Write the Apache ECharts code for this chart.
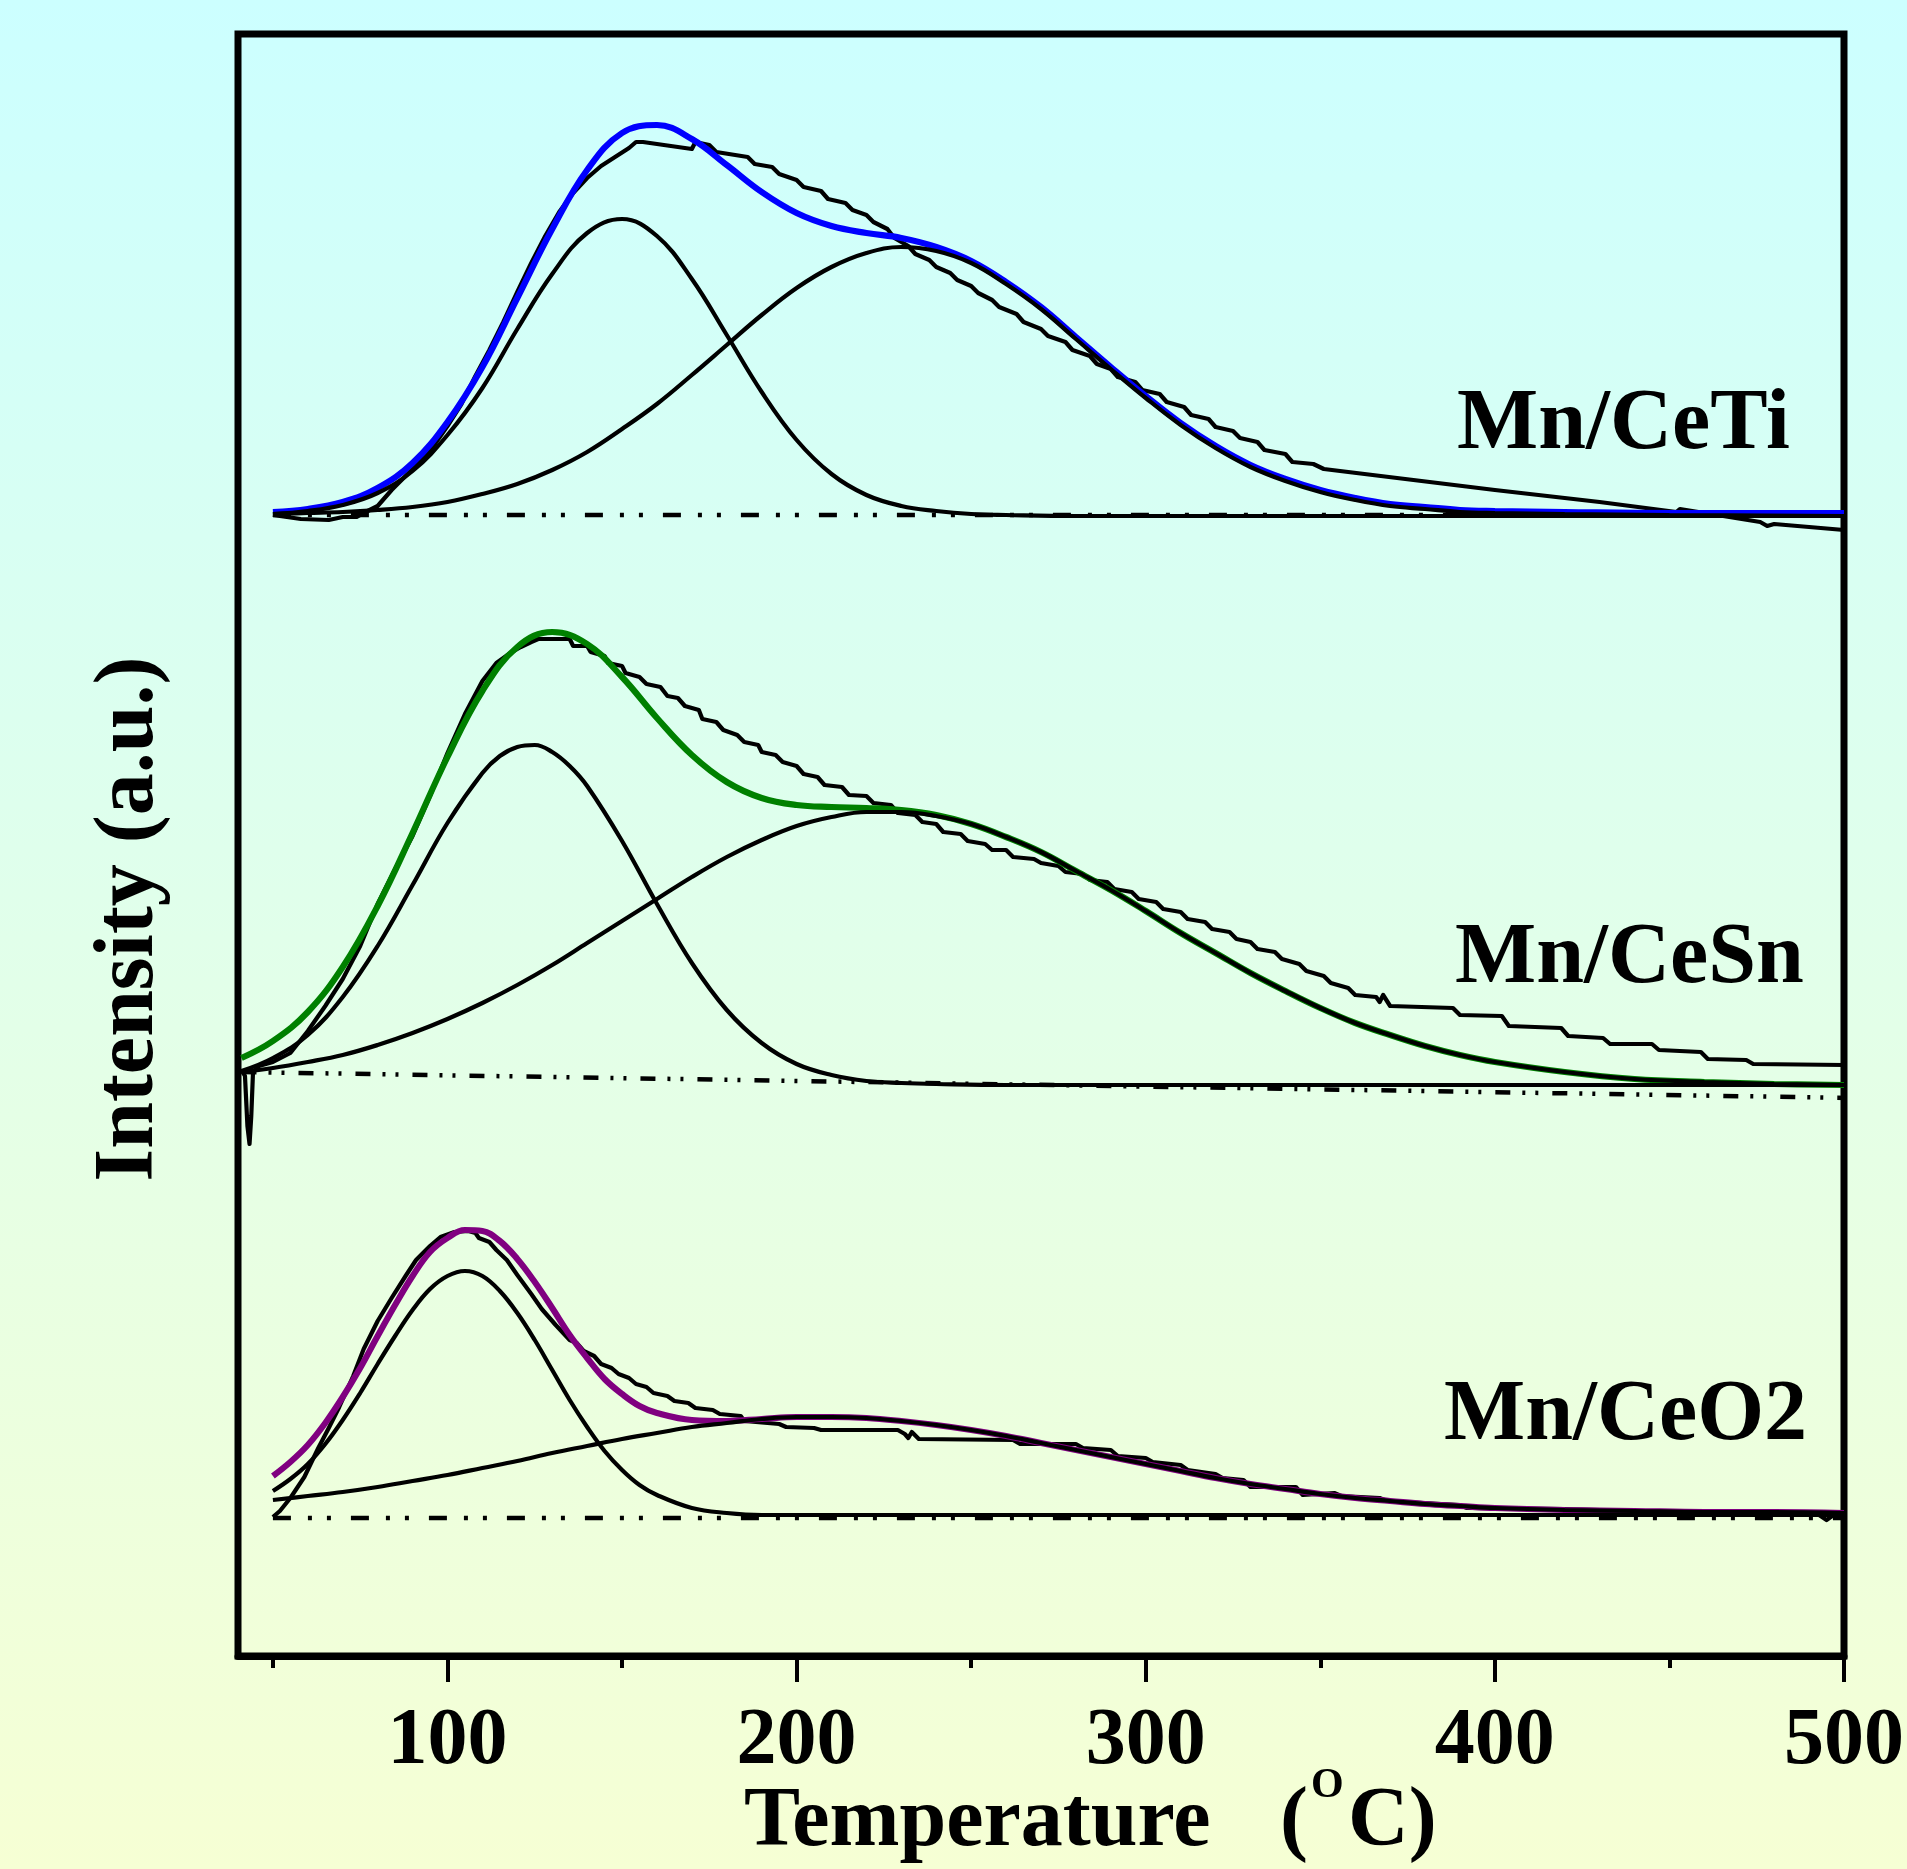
<!DOCTYPE html>
<html>
<head>
<meta charset="utf-8">
<script src="https://cdn.jsdelivr.net/npm/echarts@6/dist/echarts.min.js"></script>
<style>
html,body{margin:0;padding:0;}
#chart{width:1907px;height:1869px;}
</style>
</head>
<body>
<div id="chart"></div>
<script>
// ---- tick labels ----
const majorTicks = [100, 200, 300, 400, 500];
const minorTicks = [50, 150, 250, 350, 450];
const sampleNames = ['Mn/CeTi', 'Mn/CeSn', 'Mn/CeO2'];

// ---- Mn/CeTi ----
const ceTiBase = [[50,1141],[500,1141]];
const ceTiExp = [[50,1141],[58,1137],[66,1136],[70,1139],[74,1139],[76,1143],[80,1150],[84,1166],[88,1180],[92,1194],[96,1210],[100,1230],[104,1252],[108,1280],[112,1306],[116,1334],[120,1364],[124,1393],[128,1420],[132,1444],[136,1463],[140,1478],[144,1490],[148,1499],[152,1508],[154,1514],[156,1514],[170,1507],[171,1514],[175,1511],[177,1504],[186,1499],[188,1492],[193,1489],[195,1482],[200,1476],[202,1469],[207,1465],[209,1457],[214,1453],[216,1446],[220,1441],[222,1434],[226,1427],[228,1418],[232,1410],[234,1402],[238,1396],[240,1389],[244,1383],[246,1376],[250,1370],[252,1363],[256,1356],[258,1349],[263,1342],[265,1334],[270,1327],[272,1320],[277,1314],[279,1306],[284,1300],[286,1292],[290,1287],[292,1279],[297,1274],[299,1266],[304,1262],[306,1254],[311,1249],[313,1241],[318,1237],[320,1229],[325,1225],[327,1218],[332,1214],[334,1206],[340,1202],[342,1194],[348,1192],[351,1187],[400,1166],[430,1154],[452,1144],[453,1147],[476,1134],[478,1130],[480,1132],[500,1126]];
const ceTiFit = [[50,1144],[60,1147],[70,1154],[80,1168],[90,1193],[100,1234],[110,1289],[120,1358],[130,1427],[140,1486],[150,1523],[160,1531],[170,1517],[180,1491],[190,1464],[200,1443],[210,1430],[220,1423],[230,1418],[240,1409],[250,1395],[260,1374],[270,1349],[280,1319],[290,1289],[300,1260],[310,1233],[320,1210],[330,1191],[340,1177],[350,1166],[360,1158],[370,1152],[380,1149],[390,1146],[400,1145],[420,1144],[450,1143],[500,1143]];
const ceTiPeak1 = [[50,1142],[60,1145],[70,1151],[80,1163],[90,1185],[100,1221],[110,1268],[120,1327],[130,1382],[140,1423],[150,1437],[160,1420],[170,1377],[180,1321],[190,1264],[200,1216],[210,1182],[220,1161],[230,1150],[240,1145],[250,1142],[260,1141],[280,1140],[350,1140],[500,1140]];
const ceTiPeak2 = [[50,1142],[60,1143],[70,1144],[80,1146],[90,1149],[100,1154],[110,1162],[120,1172],[130,1186],[140,1204],[150,1227],[160,1252],[170,1281],[180,1311],[190,1341],[200,1368],[210,1389],[220,1403],[230,1409],[240,1405],[250,1393],[260,1372],[270,1347],[280,1317],[290,1287],[300,1258],[310,1231],[320,1208],[330,1189],[340,1175],[350,1164],[360,1156],[370,1150],[380,1147],[390,1144],[400,1143],[420,1142],[450,1141],[500,1140]];

// ---- Mn/CeSn ----
const ceSnBase = [[41,584],[503,558]];
const ceSnExp = [[41,586],[42,580],[42.7,530],[43.3,512],[43.8,540],[44.3,584],[46,590],[50,594],[55,603],[60,625],[65,650],[70,677],[75,710],[80,752],[85,787],[90,820],[95,860],[100,903],[105,942],[110,975],[114,993],[118,1003],[121,1009],[124,1014],[126,1017],[135,1017],[136,1010],[140,1010],[141,1004],[145,1000],[146,993],[150,990],[151,983],[155,979],[157,972],[161,969],[163,960],[166,958],[168,950],[172,946],[173,937],[177,934],[179,926],[183,921],[185,914],[189,911],[190,904],[194,901],[196,894],[200,890],[202,882],[206,879],[208,871],[213,869],[215,861],[220,860],[222,853],[227,851],[229,843],[234,841],[236,834],[240,832],[242,824],[247,822],[249,815],[254,812],[256,806],[260,806],[262,799],[268,797],[270,793],[275,790],[277,784],[282,782],[284,776],[289,774],[291,767],[296,764],[298,757],[303,754],[305,747],[310,744],[312,737],[317,734],[319,727],[324,724],[326,717],[330,714],[332,707],[337,704],[339,697],[344,692],[346,685],[351,680],[353,673],[358,668],[360,661],[366,659],[367,654],[368,661],[370,650],[388,648],[390,641],[402,640],[404,630],[419,628],[421,620],[431,618],[433,612],[445,612],[447,606],[459,604],[461,597],[472,596],[474,592],[500,591]];
const ceSnFit = [[41,598],[50,615],[60,644],[70,689],[80,750],[90,823],[100,899],[110,965],[120,1009],[130,1024],[140,1012],[150,979],[160,938],[170,901],[180,874],[190,858],[200,851],[210,849],[220,848],[230,846],[240,841],[250,832],[260,819],[270,804],[280,785],[290,766],[300,745],[310,723],[320,703],[330,683],[340,665],[350,648],[360,633],[370,621],[380,610],[390,601],[400,594],[420,584],[440,577],[460,574],[480,572],[500,571]];
const ceSnPeak1 = [[41,585],[50,598],[60,621],[70,659],[80,710],[90,771],[100,833],[110,883],[115,900],[120,909],[125,911],[130,904],[135,890],[140,870],[150,815],[160,752],[170,693],[180,646],[190,613],[200,592],[210,581],[220,575],[230,573],[240,572],[260,571],[350,571],[500,571]];
const ceSnPeak2 = [[41,584],[50,588],[60,594],[70,601],[80,611],[90,623],[100,637],[110,653],[120,671],[130,691],[140,713],[150,735],[160,757],[170,779],[180,799],[190,816],[200,830],[210,839],[220,844],[230,844],[240,840],[250,832],[260,819],[270,804],[280,785],[290,766],[300,745],[310,723],[320,703],[330,683],[340,665],[350,648],[360,633],[370,621],[380,610],[390,601],[400,594],[420,584],[440,577],[460,574],[480,572],[500,571]];

// ---- Mn/CeO2 ----
const ceO2Base = [[50,138],[500,138]];
const ceO2Exp = [[50,139],[52,145],[55,158],[59,179],[63,208],[66,228],[69,249],[73,280],[76,307],[80,335],[84,358],[88,380],[91,396],[95,410],[98,419],[102,424],[106,425],[108,423],[109,418],[112,414],[114,406],[117,396],[120,381],[124,362],[127,347],[131,331],[135,316],[137,313],[139,305],[142,300],[144,292],[147,288],[149,282],[152,278],[154,272],[157,269],[159,263],[163,260],[165,255],[169,253],[171,248],[176,246],[178,242],[184,240],[185,235],[195,232],[197,229],[205,228],[207,226],[229,226],[231,222],[232,218],[233,224],[235,217],[262,216],[264,212],[280,212],[282,208],[290,206],[292,200],[300,198],[302,194],[310,191],[312,186],[320,182],[322,178],[328,176],[330,169],[343,169],[345,161],[354,163],[356,160],[367,158],[369,155],[390,151],[392,148],[420,147],[440,145],[460,144],[492,143],[495,136],[497,141],[500,143]];
const ceO2Fit = [[50,180],[55,194],[60,211],[65,233],[70,259],[75,288],[80,320],[85,351],[90,380],[95,404],[100,418],[105,426],[110,425],[115,415],[120,397],[125,374],[130,348],[135,321],[140,298],[145,277],[150,262],[155,250],[160,243],[170,236],[180,235],[190,237],[200,239],[210,239],[220,238],[230,235],[240,231],[250,226],[260,220],[270,213],[280,206],[290,199],[300,192],[310,185],[320,178],[330,172],[340,167],[350,162],[360,158],[370,155],[380,152],[390,150],[400,148],[420,146],[440,145],[460,144],[480,144],[500,143]];
const ceO2Peak1 = [[50,165],[55,177],[60,192],[65,212],[70,236],[75,263],[80,292],[85,320],[90,346],[95,367],[100,380],[105,385],[110,380],[115,365],[120,343],[125,316],[130,286],[135,256],[140,229],[145,205],[150,186],[155,171],[160,161],[170,148],[180,143],[190,141],[220,141],[350,141],[500,141]];
const ceO2Peak2 = [[50,156],[60,160],[70,164],[80,169],[90,175],[100,181],[110,188],[120,195],[130,203],[140,210],[150,217],[160,223],[170,229],[180,233],[190,237],[200,239],[210,239],[220,238],[230,235],[240,231],[250,226],[260,220],[270,213],[280,206],[290,199],[300,192],[310,185],[320,178],[330,172],[340,167],[350,162],[360,158],[370,155],[380,152],[390,150],[400,148],[420,146],[440,145],[460,144],[480,144],[500,143]];

const FONT = '"Liberation Serif","Times New Roman",serif';
const dashA = [18, 17, 4, 15, 4, 20];
const dashB = [15, 12, 3, 10, 3, 14];

function baseSeries(data, dash) {
  return {type:'line', data, symbol:'none', silent:true, clip:false,
    lineStyle:{color:'#000', width:4.5, type:dash}, z:2};
}
function expSeries(data) {
  return {type:'line', data, symbol:'none', silent:true,
    lineStyle:{color:'#000', width:4.2, join:'round'}, z:3};
}
function fitSeries(data, color) {
  return {type:'line', data, symbol:'none', smooth:0.4, silent:true,
    lineStyle:{color, width:6.2}, z:4};
}
function peakSeries(data) {
  return {type:'line', data, symbol:'none', smooth:0.4, silent:true,
    lineStyle:{color:'#000', width:4.2}, z:5};
}

const chart = echarts.init(document.getElementById('chart'), null, {renderer:'canvas'});
const option = {
  animation:false,
  backgroundColor:{type:'linear', x:0, y:0, x2:0, y2:1,
    colorStops:[{offset:0, color:'#ccffff'}, {offset:0.55, color:'#e3ffe8'}, {offset:1, color:'#f6ffd4'}]},
  grid:{left:238, right:58, top:34, bottom:213, show:true, borderColor:'#000', borderWidth:7, backgroundColor:'transparent'},
  xAxis:[
    {type:'value', min:40, max:500, position:'bottom',
      axisLine:{show:true, lineStyle:{color:'#000', width:7}},
      axisTick:{show:true, inside:false, length:26, customValues:majorTicks, lineStyle:{color:'#000', width:4}},
      axisLabel:{show:true, customValues:majorTicks, margin:46, color:'#000', fontFamily:FONT, fontWeight:'bold', fontSize:80},
      splitLine:{show:false}},
    {type:'value', min:40, max:500, position:'bottom',
      axisLine:{show:false},
      axisTick:{show:true, inside:false, length:12, customValues:minorTicks, lineStyle:{color:'#000', width:4}},
      axisLabel:{show:false}, splitLine:{show:false}}
  ],
  yAxis:{type:'value', min:0, max:1622, show:false},
  series:[
    baseSeries(ceTiBase, dashA), expSeries(ceTiExp), fitSeries(ceTiFit, '#0000ff'), peakSeries(ceTiPeak1), peakSeries(ceTiPeak2),
    baseSeries(ceSnBase, dashB), expSeries(ceSnExp), fitSeries(ceSnFit, '#008000'), peakSeries(ceSnPeak1), peakSeries(ceSnPeak2),
    baseSeries(ceO2Base, dashA), expSeries(ceO2Exp), fitSeries(ceO2Fit, '#800080'), peakSeries(ceO2Peak1), peakSeries(ceO2Peak2)
  ],
  graphic:[
    {type:'text', x:130, y:919, rotation:Math.PI/2, z:10,
      style:{text:'Intensity (a.u.)', font:'bold 84px ' + FONT, fill:'#000', textAlign:'center', textVerticalAlign:'middle'}},
    {type:'text', x:744, y:1823, z:10,
      style:{text:'Temperature', font:'bold 84px ' + FONT, fill:'#000', textAlign:'left', textVerticalAlign:'middle'}},
    {type:'text', x:1280, y:1823, z:10,
      style:{text:'(', font:'bold 84px ' + FONT, fill:'#000', textAlign:'left', textVerticalAlign:'middle'}},
    {type:'text', x:1311, y:1786, z:10,
      style:{text:'O', font:'bold 42px ' + FONT, fill:'#000', textAlign:'left', textVerticalAlign:'middle'}},
    {type:'text', x:1348, y:1823, z:10,
      style:{text:'C)', font:'bold 84px ' + FONT, fill:'#000', textAlign:'left', textVerticalAlign:'middle'}},
    {type:'text', x:1457, y:426, z:10,
      style:{text:sampleNames[0], font:'bold 86px ' + FONT, fill:'#000', textAlign:'left', textVerticalAlign:'middle'}},
    {type:'text', x:1455, y:960, z:10,
      style:{text:sampleNames[1], font:'bold 86px ' + FONT, fill:'#000', textAlign:'left', textVerticalAlign:'middle'}},
    {type:'text', x:1444, y:1417, z:10,
      style:{text:sampleNames[2], font:'bold 86px ' + FONT, fill:'#000', textAlign:'left', textVerticalAlign:'middle'}}
  ]
};
chart.setOption(option);
</script>
</body>
</html>
